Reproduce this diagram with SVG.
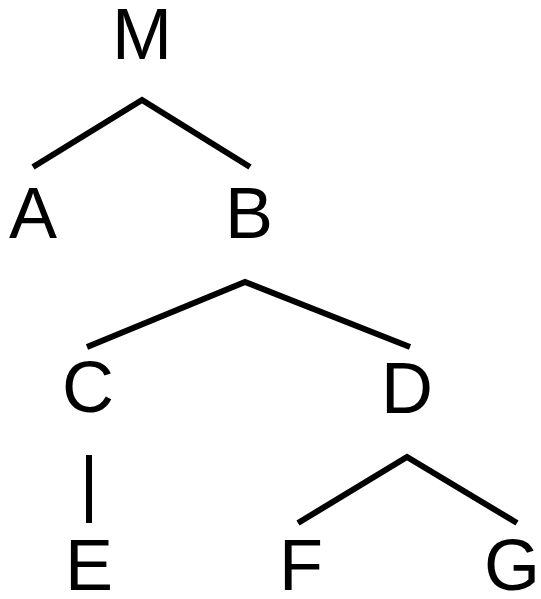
<svg xmlns="http://www.w3.org/2000/svg" width="541" height="599" viewBox="0 0 541 599">
<style>
.lbl{font-family:"Liberation Sans",Arial,sans-serif;font-size:72px;fill:#000;text-anchor:middle}
.edge{stroke:#000;stroke-width:6;fill:none}
</style>
<rect width="541" height="599" fill="#fff"/>
<g id="connectors">
<polyline class="edge" points="33,167 142,100 250,167"/>
<polyline class="edge" points="87,347 245,282 410,347"/>
<line class="edge" x1="89" y1="455" x2="89" y2="523"/>
<polyline class="edge" points="298,523 407,457 517,523"/>
</g>
<g id="node-M"><text class="lbl" x="142" y="59">M</text></g>
<g id="node-A"><text class="lbl" x="33" y="238">A</text></g>
<g id="node-B"><text class="lbl" x="249" y="238">B</text></g>
<g id="node-C"><text class="lbl" x="88" y="412">C</text></g>
<g id="node-D"><text class="lbl" x="407" y="413">D</text></g>
<g id="node-E"><text class="lbl" x="89" y="590">E</text></g>
<g id="node-F"><text class="lbl" x="301" y="590">F</text></g>
<g id="node-G"><text class="lbl" x="512" y="590">G</text></g>
</svg>
